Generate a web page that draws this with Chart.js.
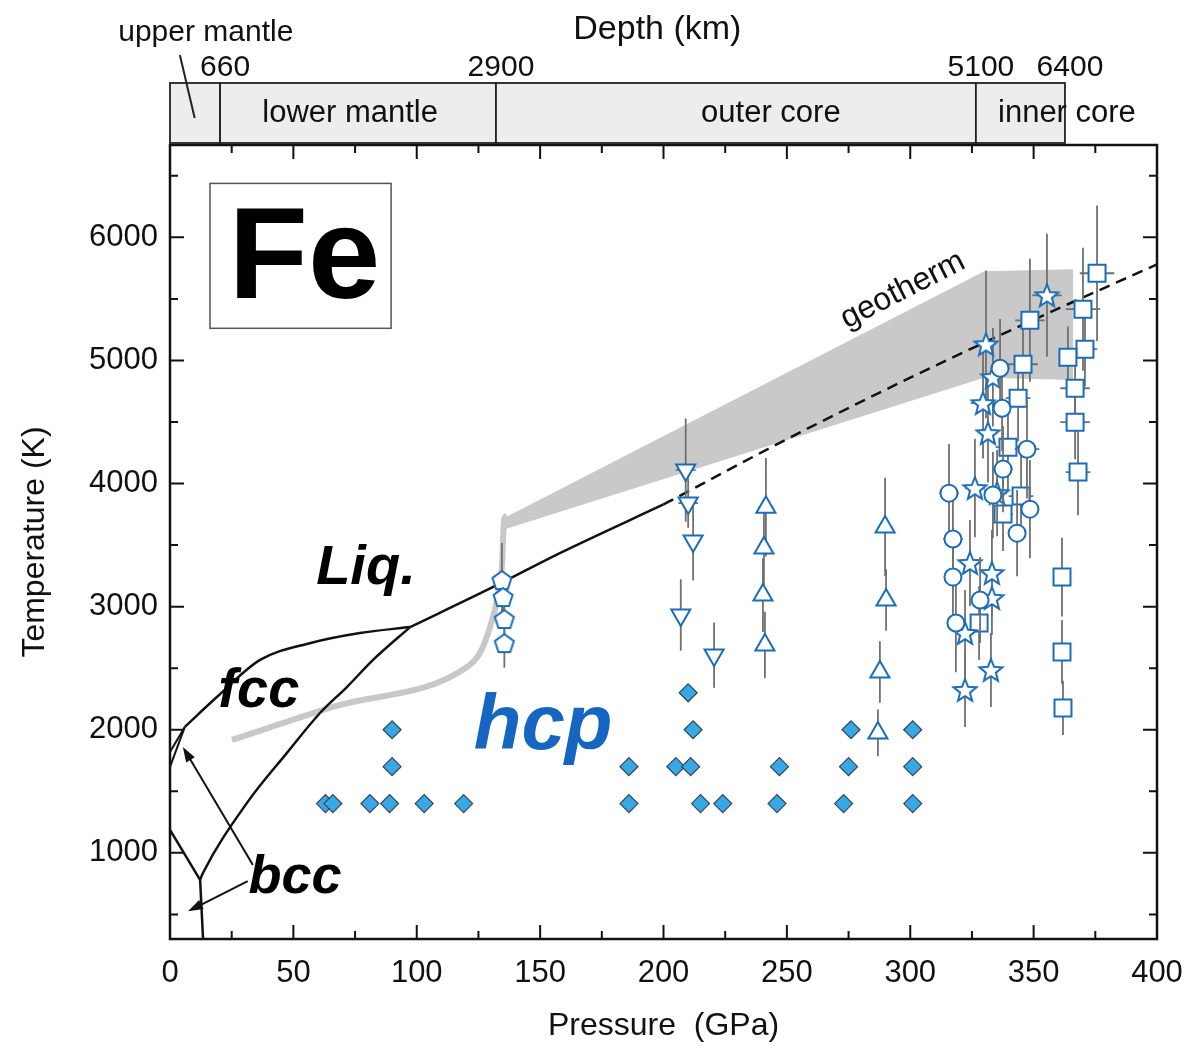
<!DOCTYPE html>
<html>
<head>
<meta charset="utf-8">
<title>Fe phase diagram</title>
<script src="https://cdn.jsdelivr.net/npm/chart.js@4.4.0/dist/chart.umd.min.js"></script>
<style>
  html, body { margin: 0; padding: 0; background: #fff; }
  canvas { display: block; }
</style>
</head>
<body>
<canvas id="grafica" width="1188" height="1055"></canvas>
<script>
const FONT = "'Liberation Sans', Arial, Helvetica, sans-serif";
const BLUE = "#1a6db8";

// axes
const xTicks = [0, 50, 100, 150, 200, 250, 300, 350, 400];
const yTicks = [1000, 2000, 3000, 4000, 5000, 6000];

// depth panel: boundary labels (km) and the pressure they sit at
const depthKm = ["660", "2900", "5100", "6400"];
const depthP = [20.3, 132.1, 326.6, 362.7];
const layerNames = ["lower mantle", "outer core", "inner core"];
const layerP = [73, 243.5, 363.5];

// phase boundaries (GPa, K)
const deltaLiqP = [0, 6];
const deltaLiqT = [1820, 2023];
const deltaFccP = [0, 6];
const deltaFccT = [1698, 2023];
const fccLiqP = [6, 19, 36.5, 57, 77, 97.3];
const fccLiqT = [2023, 2266, 2567, 2705, 2786, 2834];
const hcpLiqP = [97.3, 131, 158, 200];
const hcpLiqT = [2834, 3160, 3435, 3830];
const meltExtP = [200, 250, 300, 350, 400];
const meltExtT = [3830, 4360, 4860, 5330, 5780];
const fccHcpP = [12.2, 13.4, 31.2, 47.4, 60.8, 71.7, 82.3, 97.3];
const fccHcpT = [781, 838, 1406, 1812, 2136, 2347, 2567, 2834];
const bccFccP = [0, 12.2];
const bccFccT = [1187, 781];
const bccHcpP = [12.2, 13.4];
const bccHcpT = [781, 300];

// grey melting curve
const greyP = [25.1, 66, 120.4, 125.6, 129.7, 132.5, 134.5, 135.4, 136.5];
const greyT = [1917, 2185, 2510, 2623, 2834, 3053, 3321, 3703, 3740];

// geotherm band outline
const bandP = [136, 330, 366, 366, 330, 136];
const bandT = [3727, 5724, 5740, 4840, 4860, 3630];

// hcp XRD points (filled diamonds)
const diaP = [63, 66, 81, 89, 103, 119, 186, 215, 224, 246, 273, 301,
              90, 186, 205, 211, 247, 275, 301,
              90, 212, 276, 301,
              210];
const diaT = [1400, 1400, 1400, 1400, 1400, 1400, 1400, 1400, 1400, 1400, 1400, 1400,
              1700, 1700, 1700, 1700, 1700, 1700, 1700,
              2000, 2000, 2000, 2000,
              2300];

// open symbols with error bars
const pentP = [134.5, 135, 135.5, 135.5];
const pentT = [3216, 3078, 2899, 2704];
const pentDT = [300, 150, 150, 200];

const dnP = [209, 210, 212, 207, 220.5];
const dnT = [4109, 3841, 3533, 2932, 2607];
const dnDT = [420, 200, 320, 290, 265];
const dnDP = [4, 4, 0, 0, 0];

const upP = [241.5, 240.7, 240.3, 241.1, 289.8, 290.2, 287.7, 286.9];
const upT = [3808, 3476, 3094, 2688, 3646, 3054, 2469, 1974];
const upDT = [400, 300, 300, 270, 400, 250, 250, 190];
const upDP = [3, 0, 0, 0, 3, 0, 0, 0];

const starP = [355.4, 330.7, 333.5, 329.5, 331.5, 326.2, 335.2, 324.2, 333.1, 333.1, 322.2, 332.7, 322.2];
const starT = [5529, 5131, 4864, 4653, 4409, 3963, 3922, 3354, 3273, 3070, 2786, 2485, 2323];
const starDT = [500, 600, 400, 450, 400, 400, 350, 350, 350, 300, 350, 300, 300];
const starDP = [6, 0, 0, 5, 0, 4, 4, 0, 0, 0, 0, 0, 0];

const circP = [336.4, 337.2, 347.3, 337.6, 315.7, 333.5, 348.5, 343.3, 317.3, 317.3, 328.3, 318.5];
const circT = [4937, 4612, 4279, 4117, 3922, 3906, 3792, 3597, 3549, 3240, 3054, 2867];
const circDT = [400, 350, 400, 350, 400, 350, 400, 350, 400, 400, 350, 400];
const circDP = [4, 0, 5, 4, 4, 0, 0, 0, 4, 0, 0, 0];

const sqP = [375.7, 348.5, 370, 370.8, 363.9, 345.7, 366.8, 343.7, 366.8, 339.6, 368, 344.9, 337.6, 361.5, 361.5, 361.9, 327.9];
const sqT = [5708, 5326, 5416, 5091, 5026, 4969, 4774, 4693, 4498, 4295, 4093, 3898, 3752, 3240, 2632, 2177, 2867];
const sqDT = [550, 500, 500, 300, 250, 350, 250, 350, 300, 350, 350, 350, 300, 320, 260, 220, 300];
const sqDP = [7, 6, 7, 5, 0, 6, 6, 5, 6, 5, 5, 5, 4, 0, 0, 0, 0];

const pts = (P, T) => P.map((p, i) => ({ x: p, y: T[i] }));

function linea(P, T, extra) {
  return Object.assign({
    data: pts(P, T), showLine: true, pointRadius: 0, borderColor: "#111",
    borderWidth: 2.5, fill: false, tension: 0, order: 5
  }, extra);
}

function simbolo(P, T, style, radius, dT, dP, extra) {
  return Object.assign({
    data: pts(P, T), showLine: false, pointStyle: style, pointRadius: radius,
    backgroundColor: "#fff", borderColor: BLUE, borderWidth: 2,
    errT: dT, errP: dP, order: 1
  }, extra);
}

// star / pentagon point styles
function figura(n, rOut, rIn) {
  const s = Math.ceil(rOut * 2 + 6);
  const c = document.createElement("canvas");
  c.width = c.height = s;
  const g = c.getContext("2d");
  const k = rIn ? n * 2 : n;
  g.beginPath();
  for (let i = 0; i < k; i++) {
    const r = rIn && i % 2 ? rIn : rOut;
    const a = -Math.PI / 2 + i * 2 * Math.PI / k;
    const px = s / 2 + r * Math.cos(a), py = s / 2 + 1 + r * Math.sin(a);
    if (i === 0) g.moveTo(px, py); else g.lineTo(px, py);
  }
  g.closePath();
  g.fillStyle = "#fff";
  g.fill();
  g.strokeStyle = BLUE;
  g.lineWidth = 2;
  g.stroke();
  return c;
}
const estrella = figura(5, 12, 5.2);
const pentagono = figura(5, 10);

const errorBars = {
  id: "errorBars",
  beforeDatasetDraw(chart, args) {
    const ds = chart.data.datasets[args.index];
    if (!ds.errT) return;
    const { ctx, chartArea: a, scales: { x, y } } = chart;
    ctx.save();
    ctx.beginPath();
    ctx.rect(a.left, a.top, a.right - a.left, a.bottom - a.top);
    ctx.clip();
    ctx.strokeStyle = "#707070";
    ctx.lineWidth = 1.8;
    ds.data.forEach((d, i) => {
      const px = x.getPixelForValue(d.x), py = y.getPixelForValue(d.y);
      const dT = ds.errT[i] || 0, dP = ds.errP ? ds.errP[i] || 0 : 0;
      ctx.beginPath();
      if (dT) {
        ctx.moveTo(px, y.getPixelForValue(d.y - dT));
        ctx.lineTo(px, y.getPixelForValue(d.y + dT));
      }
      if (dP) {
        ctx.moveTo(x.getPixelForValue(d.x - dP), py);
        ctx.lineTo(x.getPixelForValue(d.x + dP), py);
      }
      ctx.stroke();
    });
    ctx.restore();
  }
};

function texto(ctx, str, x, y, font, color, rot) {
  ctx.save();
  ctx.translate(x, y);
  if (rot) ctx.rotate(rot);
  ctx.font = font;
  ctx.fillStyle = color || "#111";
  ctx.textAlign = "center";
  ctx.textBaseline = "middle";
  ctx.fillText(str, 0, 0);
  ctx.restore();
}

function flecha(ctx, x1, y1, x2, y2) {
  const ang = Math.atan2(y2 - y1, x2 - x1);
  ctx.beginPath();
  ctx.moveTo(x1, y1);
  ctx.lineTo(x2 - 10 * Math.cos(ang), y2 - 10 * Math.sin(ang));
  ctx.stroke();
  ctx.beginPath();
  ctx.moveTo(x2, y2);
  ctx.lineTo(x2 - 15 * Math.cos(ang) + 5 * Math.sin(ang), y2 - 15 * Math.sin(ang) - 5 * Math.cos(ang));
  ctx.lineTo(x2 - 15 * Math.cos(ang) - 5 * Math.sin(ang), y2 - 15 * Math.sin(ang) + 5 * Math.cos(ang));
  ctx.closePath();
  ctx.fill();
}

const etiquetas = {
  id: "etiquetas",
  afterDatasetsDraw(chart) {
    const { ctx, scales: { x, y } } = chart;
    const X = v => x.getPixelForValue(v), Y = v => y.getPixelForValue(v);
    // Fe box
    ctx.save();
    ctx.strokeStyle = "#555";
    ctx.lineWidth = 1.5;
    ctx.strokeRect(X(16.2), Y(6438), X(89.6) - X(16.2), Y(5261) - Y(6438));
    ctx.restore();
    texto(ctx, "Fe", X(54.5), Y(5800), "bold 130px " + FONT, "#000");
    texto(ctx, "Liq.", X(79.4), Y(3313), "italic bold 56px " + FONT, "#000");
    texto(ctx, "fcc", X(36), Y(2307), "italic bold 56px " + FONT, "#000");
    texto(ctx, "bcc", X(50.7), Y(797), "italic bold 54px " + FONT, "#000");
    texto(ctx, "hcp", X(151.2), Y(2015), "italic bold 78px " + FONT, "#1666c1");
    texto(ctx, "geotherm", X(297), Y(5570), "32px " + FONT, "#111", -27 * Math.PI / 180);
    ctx.save();
    ctx.strokeStyle = "#111";
    ctx.fillStyle = "#111";
    ctx.lineWidth = 2;
    flecha(ctx, X(33.6), Y(902), X(5.2), Y(1860));
    flecha(ctx, X(31.5), Y(770), X(7.3), Y(525));
    ctx.restore();
  }
};

const marco = {
  id: "marco",
  afterDraw(chart) {
    const { ctx, chartArea: a, scales: { x, y } } = chart;
    const X = v => x.getPixelForValue(v), Y = v => y.getPixelForValue(v);
    ctx.save();
    // ticks on all four sides, pointing inward
    ctx.strokeStyle = "#111";
    ctx.lineWidth = 2;
    ctx.beginPath();
    xTicks.forEach((v, i) => {
      const px = X(v);
      ctx.moveTo(px, a.bottom); ctx.lineTo(px, a.bottom - 14);
      ctx.moveTo(px, a.top); ctx.lineTo(px, a.top + 14);
      if (i < xTicks.length - 1) {
        const m = X((v + xTicks[i + 1]) / 2);
        ctx.moveTo(m, a.bottom); ctx.lineTo(m, a.bottom - 8);
        ctx.moveTo(m, a.top); ctx.lineTo(m, a.top + 8);
      }
    });
    yTicks.forEach(v => {
      const py = Y(v);
      ctx.moveTo(a.left, py); ctx.lineTo(a.left + 14, py);
      ctx.moveTo(a.right, py); ctx.lineTo(a.right - 14, py);
      [v - 500, v + 500].forEach(m => {
        if (m > y.min && m < y.max) {
          ctx.moveTo(a.left, Y(m)); ctx.lineTo(a.left + 8, Y(m));
          ctx.moveTo(a.right, Y(m)); ctx.lineTo(a.right - 8, Y(m));
        }
      });
    });
    ctx.stroke();
    ctx.lineWidth = 2.5;
    ctx.strokeRect(a.left, a.top, a.right - a.left, a.bottom - a.top);

    // depth panel
    const top = a.top - 62, bot = a.top - 2;
    const edges = [0].concat(depthP);
    ctx.lineWidth = 1.8;
    ctx.strokeStyle = "#222";
    for (let i = 0; i < edges.length - 1; i++) {
      const l = X(edges[i]), r = X(edges[i + 1]);
      ctx.fillStyle = "#ededed";
      ctx.fillRect(l, top, r - l, bot - top);
      ctx.strokeRect(l, top, r - l, bot - top);
    }
    depthKm.forEach((t, i) => texto(ctx, t, X(depthP[i]) + 5, a.top - 77, "30px " + FONT, "#111"));
    layerNames.forEach((t, i) => texto(ctx, t, X(layerP[i]), a.top - 32, "31px " + FONT, "#111"));
    texto(ctx, "upper mantle", X(14.5), a.top - 112, "30px " + FONT, "#111");
    ctx.lineWidth = 2;
    ctx.beginPath();
    ctx.moveTo(X(4), a.top - 90);
    ctx.lineTo(X(10), a.top - 27);
    ctx.stroke();
    texto(ctx, "Depth (km)", X(197.5), a.top - 115, "34px " + FONT, "#111");
    ctx.restore();
  }
};

new Chart(document.getElementById("grafica"), {
  type: "scatter",
  data: {
    datasets: [
      { data: pts(bandP, bandT), showLine: true, pointRadius: 0, borderWidth: 0,
        backgroundColor: "#c9c9c9", fill: "shape", tension: 0, order: 10 },
      linea(greyP, greyT, { borderColor: "#c8c8c8", borderWidth: 6, cubicInterpolationMode: "monotone", order: 9 }),
      linea(deltaLiqP, deltaLiqT, { borderWidth: 2 }),
      linea(deltaFccP, deltaFccT, { borderWidth: 2 }),
      linea(fccLiqP, fccLiqT, { cubicInterpolationMode: "monotone" }),
      linea(hcpLiqP, hcpLiqT, { cubicInterpolationMode: "monotone" }),
      linea(meltExtP, meltExtT, { borderDash: [11, 7], cubicInterpolationMode: "monotone" }),
      linea(fccHcpP, fccHcpT, { cubicInterpolationMode: "monotone" }),
      linea(bccFccP, bccFccT),
      linea(bccHcpP, bccHcpT),
      { data: pts(diaP, diaT), showLine: false, pointStyle: "rectRot", pointRadius: 9,
        backgroundColor: "#37a8e6", borderColor: "#3b4450", borderWidth: 1.2, order: 2 },
      simbolo(pentP, pentT, pentagono, 10, pentDT, null),
      simbolo(dnP, dnT, "triangle", 11, dnDT, dnDP, { rotation: 180 }),
      simbolo(upP, upT, "triangle", 11, upDT, upDP),
      simbolo(circP, circT, "circle", 8.5, circDT, circDP),
      simbolo(starP, starT, estrella, 12, starDT, starDP),
      simbolo(sqP, sqT, "rect", 12, sqDT, sqDP)
    ]
  },
  options: {
    responsive: false,
    animation: false,
    devicePixelRatio: 1,
    layout: { padding: { top: 145, right: 31, left: 0, bottom: 0 } },
    plugins: { legend: { display: false }, tooltip: { enabled: false } },
    scales: {
      x: {
        type: "linear", min: 0, max: 400,
        grid: { display: false, drawTicks: false },
        border: { display: false },
        afterBuildTicks: s => { s.ticks = xTicks.map(v => ({ value: v })); },
        afterFit: s => { s.height = 116; s.paddingLeft = 0; s.paddingRight = 0; },
        ticks: { font: { size: 31, family: FONT }, color: "#111", padding: 16, maxRotation: 0, autoSkip: false, callback: v => String(v) },
        title: { display: true, text: "Pressure  (GPa)", font: { size: 32, family: FONT }, color: "#111", padding: { bottom: 10 } }
      },
      y: {
        type: "linear", min: 300, max: 6750,
        grid: { display: false, drawTicks: false },
        border: { display: false },
        afterBuildTicks: s => { s.ticks = yTicks.map(v => ({ value: v })); },
        afterFit: s => { s.width = 170; s.paddingTop = 0; s.paddingBottom = 0; },
        ticks: { font: { size: 31, family: FONT }, color: "#111", padding: 12, autoSkip: false, callback: v => String(v) },
        title: { display: true, text: "Temperature (K)", font: { size: 32, family: FONT }, color: "#111", padding: { top: 16 } }
      }
    }
  },
  plugins: [errorBars, etiquetas, marco]
});
</script>
</body>
</html>
